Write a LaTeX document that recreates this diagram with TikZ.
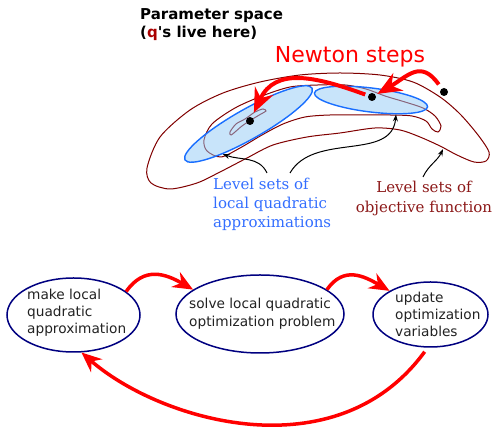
\documentclass[tikz,border=0pt]{standalone}
\usepackage{fontspec}
\setmainfont{DejaVu Sans}[Ligatures=TeXOff]
\newfontfamily\lvlfont{DejaVu Serif}
\usetikzlibrary{shapes.geometric,arrows.meta}
\definecolor{contourred}{RGB}{128,0,0}
\definecolor{quadblue}{RGB}{25,110,255}
\definecolor{quadfill}{RGB}{145,201,245}
\definecolor{lvlblue}{RGB}{51,110,255}
\definecolor{lvlred}{RGB}{140,25,25}
\definecolor{qred}{RGB}{170,0,0}
\definecolor{stagenavy}{RGB}{0,0,128}
\definecolor{stagetextgray}{RGB}{34,34,34}
\begin{document}
\begin{tikzpicture}[x=1pt, y=1pt,
  dot/.style={fill, circle, inner sep=0pt, minimum size=8pt},
  stage/.style={draw=stagenavy, line width=1.5pt, ellipse, inner sep=0pt},
  stagetext/.style={anchor=north west, align=left, inner sep=0pt, text=stagetextgray, font=\fontsize{13.7}{17}\selectfont},
  contourline/.style={draw=contourred, line width=1pt},
  quad/.style={draw=quadblue, fill=quadfill, fill opacity=0.5, line width=1.4pt, ellipse, inner sep=0pt},
  newton/.style={draw=red, line width=4pt, -{Stealth[length=24pt, width=20pt]}},
  loopback/.style={draw=red, line width=3.5pt, -{Stealth[length=20pt, width=17pt]}},
  pointer/.style={draw=black, line width=1pt, -{Stealth[length=7pt, width=5pt]}}]
\useasboundingbox (0,0) rectangle (495,427);

\node (param) at (140,419) [anchor=north west, align=left, inner sep=0pt, font=\bfseries\fontsize{15}{18}\selectfont] {Parameter space\\(\textcolor{qred}{q}'s live here)};
\node (newton) at (350,364) [anchor=base, inner sep=0pt, text=red, font=\fontsize{22}{26}\selectfont] {Newton steps};

\draw[contourline] plot[smooth cycle] coordinates {(147,259) (160,290) (190,317) (223,334) (260,345) (300,352) (340,354) (380,352) (413,345) (440,330) (460,313) (478,292) (489,275) (486,266) (474,265) (457,272) (440,281) (420,290) (400,297) (375,299) (340,294) (307,290) (273,282) (247,269) (220,255) (197,244) (170,238) (151,244)};
\draw[contourline] plot[smooth cycle] coordinates {(204,287) (212,303) (235,319) (262,331) (290,340) (318,342) (345,342) (366,338) (385,331) (405,325) (423,319) (435,311) (441,301) (438,295) (432,298) (426,306) (412,311) (390,312) (360,312) (330,312) (305,310) (283,303) (262,292) (240,279) (221,270) (207,276)};
\draw[contourline] plot[smooth cycle] coordinates {(230,295) (236,303) (245,308) (255,315) (263,318) (266,316) (261,313) (251,307) (242,301) (235,295) (231,292)};

\node (quadA) at (248.5,303) [quad, minimum width=146, minimum height=30, rotate=29.5] {};
\node (quadB) at (371,327) [quad, minimum width=114, minimum height=24, rotate=-7] {};

\node (q0) at (444,335) [dot] {};
\node (q1) at (372,330) [dot] {};
\node (q2) at (250,306) [dot] {};
\draw[newton, shorten <=5pt, shorten >=2pt] (q0) to[out=125, in=30, looseness=1.4] (q1);
\draw[newton, shorten <=3pt, shorten >=5pt] (q1) to[out=160, in=65, looseness=1.2] (q2);

\node (quadlabel) at (213,249.5) [anchor=north west, align=left, inner sep=0pt, text=lvlblue, font=\lvlfont\fontsize{15}{19}\selectfont] {Level sets of\\local quadratic\\approximations};
\node (objlabel) at (424,246.5) [anchor=north, align=center, inner sep=0pt, text=lvlred, font=\lvlfont\fontsize{15}{20}\selectfont] {Level sets of\\objective function};

\coordinate (ptrA) at (267,254);
\coordinate (ptrB) at (290,254);
\coordinate (ptrC) at (423,250);
\coordinate (outeredge) at (443,278);
\draw[pointer] (ptrA) to[out=115, in=-20] (quadA.200);
\draw[pointer] (ptrB) to[out=60, in=-95] (quadB.337);
\draw[pointer] (ptrC) to[out=65, in=-115] (outeredge);

\node (approx) at (73.5,112) [stage, minimum width=133, minimum height=74] {};
\node (solve) at (260,113) [stage, minimum width=168, minimum height=78] {};
\node (update) at (430.5,112.5) [stage, minimum width=115, minimum height=65] {};
\node (approxtext) at (27,138.4) [stagetext] {make local\\quadratic\\approximation};
\node (solvetext) at (189,128.7) [stagetext, font=\fontsize{13.7}{18}\selectfont] {solve local quadratic\\optimization problem};
\node (updatetext) at (395,134.7) [stagetext] {update\\optimization\\variables};

\draw[loopback] (approx.24) to[out=55, in=150, looseness=1.2] (solve.160);
\draw[loopback] (solve.20) to[out=55, in=150, looseness=1.2] (update.150);
\draw[loopback, shorten <=5pt] (update.265) .. controls (336,-46) and (160,6) .. (approx.282);
\end{tikzpicture}
\end{document}
